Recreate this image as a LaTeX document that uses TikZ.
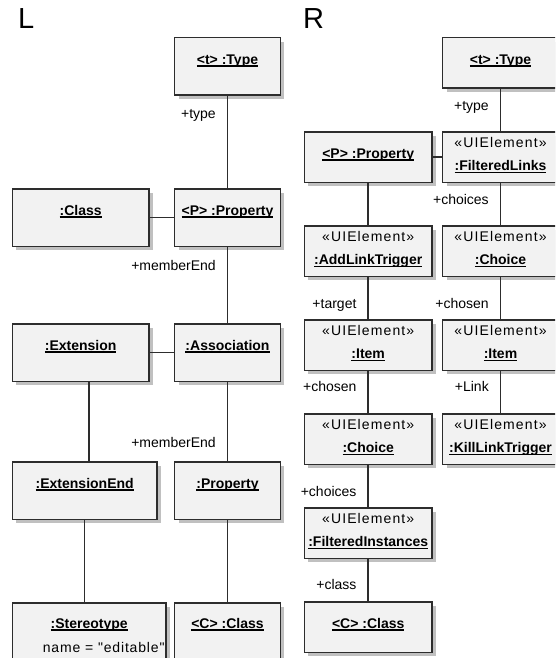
\documentclass[tikz,border=0pt]{standalone}
\usepackage{fontspec}
\setmainfont{Liberation Sans}
\newfontfamily\stereofont{Liberation Sans}[LetterSpace=8]
\newfontfamily\attrfont{Liberation Sans}[LetterSpace=6]
\usetikzlibrary{
  positioning,
  shadows}
\definecolor{boxcolor}{RGB}{242,242,242}
\definecolor{linecolor}{RGB}{45,45,45}
\definecolor{shadowcolor}{RGB}{192,192,192}
%% underlined bold name of an instance
\newcommand{\objlabel}[1]{%
  \setbox0=\hbox{\textbf{#1}}%
  \rlap{\rule[-2.5pt]{\wd0}{1.1pt}}\box0}
\tikzset{
  %% obj : an instance box
  obj/.style={
    rectangle,
    draw=linecolor,
    line width=1.5pt,
    fill=boxcolor,
    drop shadow={shadow xshift=4pt, shadow yshift=-4pt,
      fill=shadowcolor, opacity=1},
    inner sep=0pt,
    align=center,
    font=\fontsize{14}{16}\selectfont
  },
  %% onerow : name only, tall box
  onerow/.style={text height=26.3pt, text depth=31.2pt},
  %% onerowlow : name only, low box
  onerowlow/.style={text height=26.3pt, text depth=24.2pt},
  %% tworow : stereotype and name (baseline is the last row)
  tworow/.style={text height=38.8pt, text depth=11.7pt},
  %% cutoff : boxes running out of the picture
  cutoff/.style={text height=25.3pt, text depth=49pt},
  %% cutofftwo : same, with an attribute row
  cutofftwo/.style={text height=49.3pt, text depth=25pt},
  %% link : association between instances
  link/.style={draw=linecolor, line width=1.5pt},
  %% role : role name at a link end
  role/.style={
    anchor=east,
    inner sep=0pt,
    xshift=-11pt,
    text height=10pt,
    text depth=0pt,
    font=\fontsize{14}{16}\selectfont
  },
  %% title : L and R
  title/.style={anchor=base west, inner sep=0pt,
    font=\fontsize{29}{30}\selectfont}
}

\begin{document}
\begin{tikzpicture}
  [x=1pt,
  y=-1pt]

  \clip (0, 0) rectangle (555, 658);

  %% Left diagram
  \node (lhead) [title] at (18, 29) {L};

  \node (ltype) [obj, onerow, minimum width=105.8pt] at (227.5, 66.5){%
    \objlabel{<t> :Type}
  };

  \node (lprop) [below=92pt of ltype, obj, onerow, minimum width=105.8pt]{%
    \objlabel{<P> :Property}
  };

  \node (lclass) [left=24pt of lprop, obj, onerow, minimum width=136.8pt]{%
    \objlabel{:Class}
  };

  \node (lassoc) [below=76pt of lprop, obj, onerow, minimum width=105.8pt]{%
    \objlabel{:Association}
  };

  \node (lext) [left=24pt of lassoc, obj, onerow, minimum width=136.8pt]{%
    \objlabel{:Extension}
  };

  \node (lproperty) [below=79pt of lassoc, obj, onerow, minimum width=105.8pt]{%
    \objlabel{:Property}
  };

  \node (lextend) [left=16pt of lproperty, obj, onerow, minimum width=144.8pt]{%
    \objlabel{:ExtensionEnd}
  };

  \node (lccls) [below=82pt of lproperty, obj, cutoff, minimum width=105.8pt]{%
    \objlabel{<C> :Class}
  };

  \node (lstereo) [left=7pt of lccls, obj, cutofftwo, minimum width=153.8pt]{%
    \objlabel{:Stereotype}\\[8pt]
    \hspace*{29pt}\makebox[0pt]{\attrfont name = "editable"}
  };

  %% Connections
  \draw [link] (ltype) -- node [role, pos=0.19] {+type} (lprop);
  \draw [link] (lclass) -- (lprop);
  \draw [link] (lprop) -- node [role, pos=0.24] {+memberEnd} (lassoc);
  \draw [link] (lext) -- (lassoc);
  \draw [link] (lassoc) -- node [role, pos=0.77] {+memberEnd} (lproperty);
  \draw [link] (lext.south -| lstereo.north) -- (lextend.north -| lstereo.north);
  \draw [link] (lextend.south) -- (lextend.south |- lstereo.north);
  \draw [link] (lproperty) -- (lccls);

  %% Right diagram
  \node (rhead) [title] at (303, 29) {R};

  \node (rtype) [obj, onerowlow, minimum width=115.8pt] at (500.5, 63){%
    \objlabel{<t> :Type}
  };

  \node (rflinks) [below=42pt of rtype, obj, tworow, minimum width=115.8pt]{%
    {\stereofont «UIElement»}\\[7pt]
    \objlabel{:FilteredLinks}
  };

  \node (rprop) [left=9pt of rflinks, obj, onerowlow, minimum width=127.8pt]{%
    \objlabel{<P> :Property}
  };

  \node (rchoicea) [below=42pt of rflinks, obj, tworow, minimum width=115.8pt]{%
    {\stereofont «UIElement»}\\[7pt]
    \objlabel{:Choice}
  };

  \node (raddlink) [below=42pt of rprop, obj, tworow, minimum width=127.8pt]{%
    {\stereofont «UIElement»}\\[7pt]
    \objlabel{:AddLinkTrigger}
  };

  \node (ritemb) [below=42pt of rchoicea, obj, tworow, minimum width=115.8pt]{%
    {\stereofont «UIElement»}\\[7pt]
    \objlabel{:Item}
  };

  \node (ritema) [below=42pt of raddlink, obj, tworow, minimum width=127.8pt]{%
    {\stereofont «UIElement»}\\[7pt]
    \objlabel{:Item}
  };

  \node (rkill) [below=42pt of ritemb, obj, tworow, minimum width=115.8pt]{%
    {\stereofont «UIElement»}\\[7pt]
    \objlabel{:KillLinkTrigger}
  };

  \node (rchoiceb) [below=42pt of ritema, obj, tworow, minimum width=127.8pt]{%
    {\stereofont «UIElement»}\\[7pt]
    \objlabel{:Choice}
  };

  \node (rfinst) [below=42pt of rchoiceb, obj, tworow, minimum width=127.8pt]{%
    {\stereofont «UIElement»}\\[7pt]
    \objlabel{:FilteredInstances}
  };

  \node (rccls) [below=42pt of rfinst, obj, onerowlow, minimum width=127.8pt]{%
    \objlabel{<C> :Class}
  };

  %% Connections
  \draw [link] (rtype) -- node [role, pos=0.4] {+type} (rflinks);
  \draw [link] (rprop) -- (rflinks);
  \draw [link] (rflinks) -- node [role, pos=0.4] {+choices} (rchoicea);
  \draw [link] (rprop) -- (raddlink);
  \draw [link] (rchoicea) -- node [role, pos=0.62] {+chosen} (ritemb);
  \draw [link] (raddlink) -- node [role, pos=0.62] {+target} (ritema);
  \draw [link] (ritema) -- node [role, pos=0.38] {+chosen} (rchoiceb);
  \draw [link] (ritemb) -- node [role, pos=0.38] {+Link} (rkill);
  \draw [link] (rchoiceb) -- node [role, pos=0.62] {+choices} (rfinst);
  \draw [link] (rfinst) -- node [role, pos=0.6] {+class} (rccls);

\end{tikzpicture}
\end{document}
